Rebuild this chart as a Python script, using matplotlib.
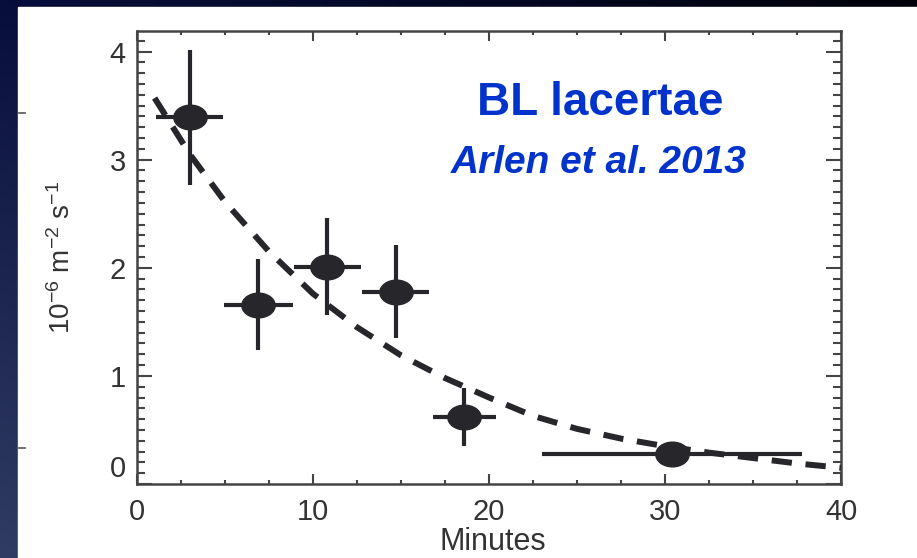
import numpy as np
import matplotlib
matplotlib.use("Agg")
import matplotlib.pyplot as plt
from matplotlib.path import Path
from matplotlib.transforms import Affine2D
from matplotlib.ticker import MultipleLocator, FuncFormatter

plt.rcParams["mathtext.default"] = "regular"

# flux points (minutes, 1e-6 m^-2 s^-1)
t_min = [3.0, 6.9, 10.8, 14.7, 18.6, 30.4]
flux = [3.39, 1.66, 2.01, 1.78, 0.62, 0.28]
t_err = [1.9, 1.95, 1.9, 1.9, 1.8, 7.4]
flux_err = [0.62, 0.42, 0.45, 0.43, 0.27, 0.0]

# decay fit curve
fit_t = [1, 3, 5, 7.5, 10, 12.5, 15, 17.5, 20, 22.5, 25, 27.5, 30, 32.5, 35, 37.5, 40]
fit_flux = [3.57, 3.05, 2.61, 2.15, 1.76, 1.45, 1.19, 0.98, 0.80, 0.63, 0.51,
            0.42, 0.35, 0.29, 0.24, 0.19, 0.15]

W, H = 917, 558
fig = plt.figure(figsize=(W / 100, H / 100), dpi=100)

# slide background: dark navy gradient, white panel on top
bg = fig.add_axes([0, 0, 1, 1])
yy, xx = np.mgrid[0:1:200j, 0:1:300j]
top = np.array([8, 14, 60]) / 255
bot = np.array([48, 60, 100]) / 255
t = np.clip(yy * 1.0 - xx * 0.3, 0, 1)[..., None]
img = top * (1 - t) + bot * t
img = img * (1 - 0.85 * xx[..., None] * (1 - yy[..., None]))
bg.imshow(img, extent=[0, W, H, 0], aspect="auto")
bg.add_patch(plt.Rectangle((18, 7), W - 18, H - 7, color="white"))
for yt in (113, 448):
    bg.plot([19, 25], [yt, yt], color="#555555", lw=1.2)
bg.set_xlim(0, W)
bg.set_ylim(H, 0)
bg.axis("off")

ax = fig.add_axes([137 / W, 1 - 484 / H, (841 - 137) / W, (484 - 31) / H])
ax.set_xlim(0, 40)
ax.set_ylim(0, 4.19)

ink = "#26262b"
ellipse = Path.unit_circle().transformed(Affine2D().scale(1.35, 1.0))
ax.errorbar(t_min, flux, xerr=t_err, yerr=flux_err, fmt="none",
            ecolor=ink, elinewidth=3.0, capsize=0, zorder=3)
ax.plot(t_min, flux, linestyle="none", marker=ellipse, markersize=24,
        color=ink, zorder=4)
ax.plot(fit_t, fit_flux, color=ink, lw=4.3, dashes=(3.4, 2.3),
        dash_capstyle="butt", zorder=5)

ax.xaxis.set_major_locator(MultipleLocator(10))
ax.xaxis.set_minor_locator(MultipleLocator(2.5))
ax.yaxis.set_major_locator(MultipleLocator(1))
ax.yaxis.set_minor_locator(MultipleLocator(0.1))
# the y "0" is drawn separately, a little above its tick
ax.yaxis.set_major_formatter(FuncFormatter(lambda v, p: "" if v == 0 else f"{v:g}"))
ax.tick_params(axis="x", which="major", direction="in", length=7, width=1.5,
               top=True, color="#444444", labelsize=21, pad=10, labelcolor="#333333")
ax.tick_params(axis="x", which="minor", direction="in", length=3, width=1.5,
               top=True, color="#444444")
ax.tick_params(axis="y", which="major", direction="in", length=11, width=1.5,
               right=True, color="#444444", labelsize=21, pad=8, labelcolor="#333333")
ax.tick_params(axis="y", which="minor", direction="in", length=6, width=1.5,
               right=True, color="#444444")
for sp in ax.spines.values():
    sp.set_color("#444444")
    sp.set_linewidth(1.8)

for lab in ax.get_xticklabels() + ax.get_yticklabels():
    lab.set_fontfamily("Liberation Sans")

ax.annotate("0", xy=(0, 0), xycoords=("axes fraction", "data"),
            xytext=(-8, 11), textcoords="offset points", ha="right", va="center",
            fontsize=21, color="#333333", family="Liberation Sans")

fig.text(493 / W, 1 - 557 / H, "Minutes", ha="center", va="bottom",
         fontsize=22, color="#333333", family="Liberation Sans")
fig.text(62 / W, 1 - 257 / H, r"10$^{-6}$ m$^{-2}$ s$^{-1}$", rotation=90,
         ha="center", va="center", fontsize=20, color="#333333",
         family="Liberation Sans")

fig.text(600 / W, 1 - 103 / H, "BL lacertae", ha="center", va="center",
         fontsize=33, fontweight="bold", color="#0033cc", family="Liberation Sans")
fig.text(599 / W, 1 - 163 / H, "Arlen et al. 2013", ha="center", va="center",
         fontsize=28, fontweight="bold", fontstyle="italic", color="#0033cc",
         family="Liberation Sans")

fig.savefig("out.png", dpi=100)
